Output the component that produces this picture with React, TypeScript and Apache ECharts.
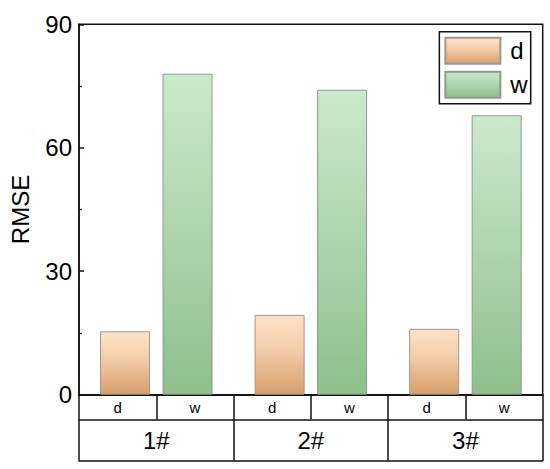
import React, { useEffect, useRef } from "react";
import * as echarts from "echarts";

const groups = ["1#", "2#", "3#"];
const subLabels = ["d", "w"];
const dValues = [15.4, 19.4, 16.0];
const wValues = [78.0, 74.1, 67.9];
const yMin = 0;
const yMax = 90;
const yInterval = 30;

const FONT = "'Liberation Sans', Arial, sans-serif";

export default function App() {
  const ref = useRef<HTMLDivElement>(null);
  useEffect(() => {
    if (!ref.current) return;
    const chart = echarts.init(ref.current, undefined, { renderer: "svg" });
    const subCats: string[] = [];
    groups.forEach(() => subLabels.forEach((s) => subCats.push(s)));
    const lineStyle = { color: "#111", width: 1.5 };
    const dGrad = new echarts.graphic.LinearGradient(0, 0, 0, 1, [
      { offset: 0, color: "#fde2c8" },
      { offset: 0.4, color: "#f4cfac" },
      { offset: 1, color: "#d89e69" },
    ]);
    const wGrad = new echarts.graphic.LinearGradient(0, 0, 0, 1, [
      { offset: 0, color: "#cbe9cc" },
      { offset: 1, color: "#8ebf8d" },
    ]);
    chart.setOption({
      animation: false,
      textStyle: { fontFamily: FONT },
      grid: {
        left: 70.7,
        right: 7.3,
        top: 24.3,
        bottom: 74.3,
        show: true,
        borderColor: "#111",
        borderWidth: 1.5,
        containLabel: false,
      },
      legend: {
        data: subLabels,
        orient: "vertical",
        right: 19.3,
        top: 31.7,
        itemWidth: 55,
        itemHeight: 26,
        itemGap: 6,
        padding: [5, 3, 5, 5],
        borderColor: "#111",
        borderWidth: 1.5,
        icon: "rect",
        textStyle: { fontSize: 24, color: "#000", fontFamily: FONT, padding: [0, 0, 0, 5] },
      },
      xAxis: [
        {
          type: "category",
          data: groups,
          position: "bottom",
          axisLine: { show: true, lineStyle },
          axisTick: { show: false },
          axisLabel: { show: false },
        },
        {
          type: "category",
          data: subCats,
          position: "bottom",
          offset: 0,
          axisLine: { show: true, lineStyle },
          axisTick: { show: true, length: 24.6, inside: false, lineStyle, interval: 0 },
          axisLabel: { show: true, fontSize: 15, color: "#000", margin: 5, interval: 0, fontFamily: FONT },
        },
        {
          type: "category",
          data: groups,
          position: "bottom",
          offset: 24.6,
          axisLine: { show: true, lineStyle },
          axisTick: { show: true, length: 41.4, inside: false, lineStyle, interval: 0 },
          axisLabel: { show: true, fontSize: 24, color: "#000", margin: 9, interval: 0, fontFamily: FONT },
        },
        {
          type: "category",
          data: groups,
          position: "bottom",
          offset: 66,
          axisLine: { show: true, lineStyle },
          axisTick: { show: false },
          axisLabel: { show: false },
        },
      ],
      yAxis: {
        type: "value",
        min: yMin,
        max: yMax,
        interval: yInterval,
        name: "RMSE",
        nameLocation: "middle",
        nameGap: 47,
        nameTextStyle: { fontSize: 24, color: "#000", fontFamily: FONT },
        axisLine: { show: true, lineStyle },
        axisTick: { show: true, inside: true, length: 5, lineStyle },
        minorTick: { show: true, splitNumber: 2, length: 3, lineStyle: { color: "#111", width: 1.2 } },
        axisLabel: { fontSize: 24, color: "#000", margin: 7, fontFamily: FONT },
        splitLine: { show: false },
      },
      series: [
        {
          name: "d",
          type: "bar",
          xAxisIndex: 0,
          data: dValues,
          barWidth: 50,
          barGap: "25%",
          itemStyle: { color: dGrad, borderColor: "#a09890", borderWidth: 1 },
        },
        {
          name: "w",
          type: "bar",
          xAxisIndex: 0,
          data: wValues,
          barWidth: 50,
          barGap: "25%",
          itemStyle: { color: wGrad, borderColor: "#8f9a8f", borderWidth: 1 },
        },
      ],
    });
    return () => chart.dispose();
  }, []);
  return (
    <div
      ref={ref}
      style={{ position: "fixed", left: 0, top: 0, width: 550, height: 469, background: "#fff" }}
    />
  );
}
